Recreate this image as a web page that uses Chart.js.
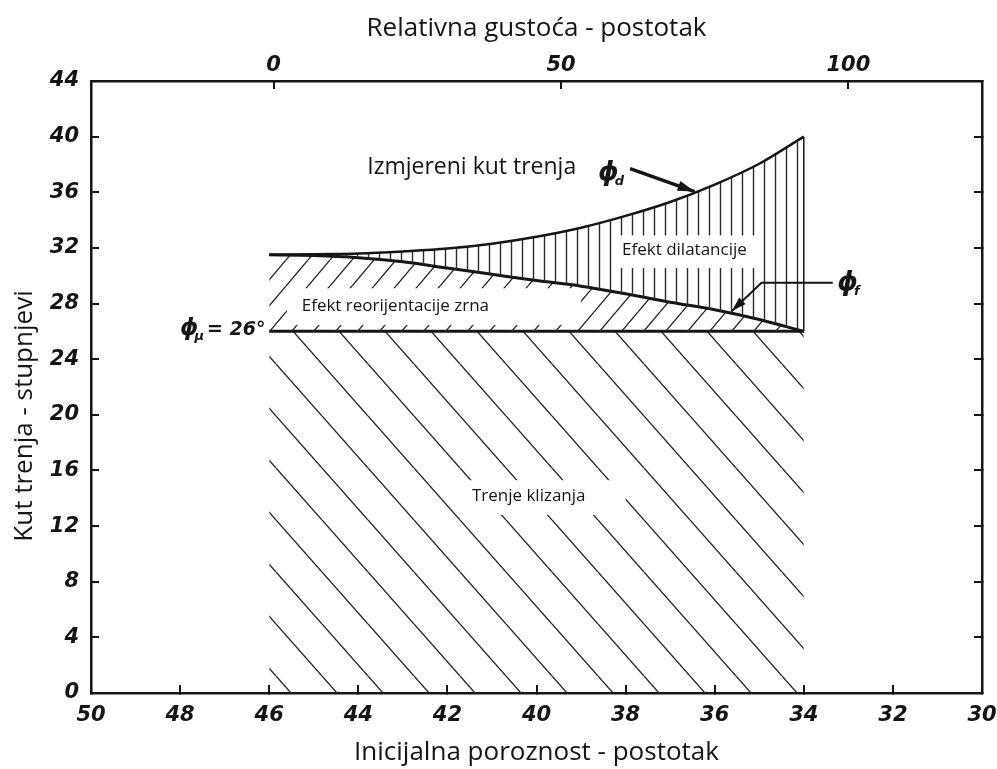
<!DOCTYPE html>
<html>
<head>
<meta charset="utf-8">
<script src="https://cdn.jsdelivr.net/npm/chart.js@4.4.1/dist/chart.umd.min.js"></script>
<style>
  html, body { margin: 0; padding: 0; background: #fff; }
</style>
</head>
<body>
<canvas id="chart" width="997" height="769"></canvas>
<script>
// inicijalna poroznost (%) - tocke na krivuljama
const porosity = [46, 45, 44, 43, 42, 41, 40, 39, 38, 37, 36, 35, 34]
// izmjereni kut trenja, phi_d (stupnjevi)
const phiD = [31.5, 31.55, 31.6, 31.75, 31.95, 32.3, 32.8, 33.45, 34.3, 35.3, 36.55, 38.05, 40.0]
// phi_f (stupnjevi)
const phiF = [31.5, 31.45, 31.3, 31.0, 30.55, 30.1, 29.65, 29.25, 28.7, 28.1, 27.55, 26.85, 26.0]
// trenje klizanja, phi_mu = 26
const phiMuX = [46, 34]
const phiMuY = [26, 26]
// desni rub efekta dilatancije
const edgeX = [34, 34]
const edgeY = [26, 40]

// relativna gustoca: 0 % i 100 % odgovaraju ovim porozitetima
const densityZeroAt = 45.9
const densityFullAt = 33.0
const densityTicks = [0, 50, 100]

const porosityMin = 30
const porosityMax = 50
const angleMax = 44

const toDensity = p => (densityZeroAt - p) / (densityZeroAt - densityFullAt) * 100

const ink = '#151515'
const tickFont = { family: 'DejaVu Sans', size: 21, style: 'italic', weight: 'bold' }
const titleFont = { family: 'Open Sans', size: 26 }

const canvas = document.getElementById('chart')
const ctx0 = canvas.getContext('2d')

function hatch(w, h, paint) {
    const tile = document.createElement('canvas')
    tile.width = w
    tile.height = h
    const g = tile.getContext('2d')
    g.strokeStyle = '#2b2b2b'
    g.lineWidth = 1.4
    g.beginPath()
    paint(g, w, h)
    g.stroke()
    return ctx0.createPattern(tile, 'repeat')
}

const verticalHatch = hatch(11, 4, (g, w, h) => {
    g.moveTo(5.5, 0)
    g.lineTo(5.5, h)
})
const slashHatch = hatch(22, 26, (g, w, h) => {
    for (const k of [-1, 0, 1]) {
        g.moveTo(k * w, h)
        g.lineTo((k + 1) * w, 0)
    }
})
const backHatch = hatch(46, 52, (g, w, h) => {
    for (const k of [-1, 0, 1]) {
        g.moveTo(k * w, 0)
        g.lineTo((k + 1) * w, h)
    }
})

const boxes = [
    { text: 'Efekt reorijentacije zrna', from: 45.6, to: 39.0, top: 29.1, bottom: 26.45, textAt: 45.27, mid: 27.8 },
    { text: 'Efekt dilatancije', from: 38.25, to: 35.05, top: 32.9, bottom: 30.55, textAt: 38.08, mid: 31.85 },
    { text: 'Trenje klizanja', from: 41.8, to: 38.0, top: 15.3, bottom: 12.8, textAt: 41.45, mid: 14.15 },
]
const pointers = [
    { path: [[37.9, 37.7], [36.45, 36.05]], width: 3.5, head: 17 },
    { path: [[33.35, 29.5], [34.95, 29.5], [35.62, 27.45]], width: 2, head: 15 },
]
const symbols = [
    { at: [38.62, 36.9], sub: 'd' },
    { at: [33.25, 29.0], sub: 'f' },
]

function arrow(ctx, pts, head) {
    ctx.beginPath()
    pts.forEach((p, i) => (i ? ctx.lineTo(p[0], p[1]) : ctx.moveTo(p[0], p[1])))
    ctx.stroke()
    const a = pts[pts.length - 2]
    const b = pts[pts.length - 1]
    const ang = Math.atan2(b[1] - a[1], b[0] - a[0])
    const c = Math.cos(ang)
    const s = Math.sin(ang)
    ctx.beginPath()
    ctx.moveTo(b[0], b[1])
    ctx.lineTo(b[0] - head * c + head * 0.3 * s, b[1] - head * s - head * 0.3 * c)
    ctx.lineTo(b[0] - head * c - head * 0.3 * s, b[1] - head * s + head * 0.3 * c)
    ctx.closePath()
    ctx.fill()
}

function phi(ctx, x, y, sub, size) {
    ctx.font = 'italic bold ' + size + 'px "DejaVu Sans"'
    ctx.textAlign = 'left'
    ctx.textBaseline = 'alphabetic'
    ctx.fillText('\u03D5', x, y)
    const w = ctx.measureText('\u03D5').width
    ctx.font = 'italic bold 13px "DejaVu Sans"'
    ctx.fillText(sub, x + w - 4, y + 5)
    return x + w - 4 + ctx.measureText(sub).width
}

const notes = {
    id: 'notes',
    afterDatasetsDraw(chart) {
        const { ctx, scales } = chart
        const px = v => scales.x.getPixelForValue(v)
        const py = v => scales.y.getPixelForValue(v)
        ctx.save()
        boxes.forEach(b => {
            ctx.fillStyle = '#fff'
            ctx.fillRect(px(b.from), py(b.top), px(b.to) - px(b.from), py(b.bottom) - py(b.top))
            ctx.fillStyle = ink
            ctx.font = '17px "Open Sans"'
            ctx.textAlign = 'left'
            ctx.textBaseline = 'middle'
            ctx.fillText(b.text, px(b.textAt), py(b.mid))
        })
        ctx.fillStyle = ink
        ctx.font = '23px "Open Sans"'
        ctx.textBaseline = 'middle'
        ctx.fillText('Izmjereni kut trenja', px(43.8), py(37.75))

        ctx.strokeStyle = ink
        pointers.forEach(p => {
            ctx.lineWidth = p.width
            arrow(ctx, p.path.map(q => [px(q[0]), py(q[1])]), p.head)
        })
        symbols.forEach(s => phi(ctx, px(s.at[0]), py(s.at[1]), s.sub, 26))

        const end = phi(ctx, px(48.0), py(25.75), '\u03BC', 23)
        ctx.font = 'italic bold 19px "DejaVu Sans"'
        ctx.fillText('= 26\u00B0', end + 3, py(25.75))
        ctx.restore()
    },
    afterDraw(chart) {
        const { ctx } = chart
        ctx.save()
        ctx.translate(25, 416)
        ctx.rotate(-Math.PI / 2)
        ctx.fillStyle = ink
        ctx.font = '26px "Open Sans"'
        ctx.textAlign = 'center'
        ctx.textBaseline = 'middle'
        ctx.fillText('Kut trenja - stupnjevi', 0, 0)
        ctx.restore()
    },
}

const axisGrid = { drawOnChartArea: false, tickLength: -8, color: ink, lineWidth: 2 }
const axisBorder = { color: ink, width: 2.5 }

// fiksne dimenzije osi, bez dodatnog razmaka za rubne oznake
function fixHeight(h) {
    return s => {
        s.height = h
        s.paddingLeft = 0
        s.paddingRight = 0
    }
}
function fixWidth(w) {
    return s => {
        s.width = w
        s.paddingTop = 0
        s.paddingBottom = 0
    }
}

new Chart(canvas, {
    type: 'line',
    data: {
        datasets: [
            {
                label: 'phi_d',
                data: porosity.map((p, i) => ({ x: p, y: phiD[i] })),
                borderColor: ink,
                borderWidth: 2.5,
                cubicInterpolationMode: 'monotone',
                backgroundColor: verticalHatch,
                fill: '+1',
            },
            {
                label: 'phi_f',
                data: porosity.map((p, i) => ({ x: p, y: phiF[i] })),
                borderColor: ink,
                borderWidth: 3,
                cubicInterpolationMode: 'monotone',
                backgroundColor: slashHatch,
                fill: { value: 26 },
            },
            {
                label: 'phi_mu',
                data: phiMuX.map((p, i) => ({ x: p, y: phiMuY[i] })),
                borderColor: ink,
                borderWidth: 3,
                backgroundColor: backHatch,
                fill: 'origin',
            },
            {
                label: 'rub',
                data: edgeX.map((p, i) => ({ x: p, y: edgeY[i] })),
                borderColor: ink,
                borderWidth: 1.5,
                fill: false,
            },
        ],
    },
    options: {
        responsive: false,
        animation: false,
        layout: { padding: 0 },
        elements: { point: { radius: 0 } },
        plugins: { legend: { display: false }, tooltip: { enabled: false } },
        scales: {
            x: {
                type: 'linear',
                position: 'bottom',
                reverse: true,
                min: porosityMin,
                max: porosityMax,
                ticks: { stepSize: 2, font: tickFont, color: ink, padding: 18, autoSkip: false, maxRotation: 0 },
                grid: axisGrid,
                border: axisBorder,
                title: {
                    display: true,
                    text: 'Inicijalna poroznost - postotak',
                    font: titleFont,
                    color: ink,
                    padding: { top: 0, bottom: 1 },
                },
                afterFit: fixHeight(76),
            },
            x2: {
                type: 'linear',
                position: 'top',
                min: toDensity(porosityMax),
                max: toDensity(porosityMin),
                afterBuildTicks: s => { s.ticks = densityTicks.map(v => ({ value: v })) },
                ticks: { font: tickFont, color: ink, padding: 11, autoSkip: false, maxRotation: 0 },
                grid: axisGrid,
                border: axisBorder,
                title: {
                    display: true,
                    text: 'Relativna gustoća - postotak',
                    font: titleFont,
                    color: ink,
                    padding: { top: 13, bottom: 0 },
                },
                afterFit: fixHeight(81),
            },
            y: {
                position: 'left',
                min: 0,
                max: angleMax,
                ticks: { stepSize: 4, font: tickFont, color: ink, padding: 20 },
                grid: axisGrid,
                border: axisBorder,
                afterFit: fixWidth(91),
            },
            y2: {
                position: 'right',
                min: 0,
                max: angleMax,
                ticks: { stepSize: 4, display: false },
                grid: axisGrid,
                border: axisBorder,
                afterFit: fixWidth(15),
            },
        },
    },
    plugins: [notes],
})
</script>
</body>
</html>
